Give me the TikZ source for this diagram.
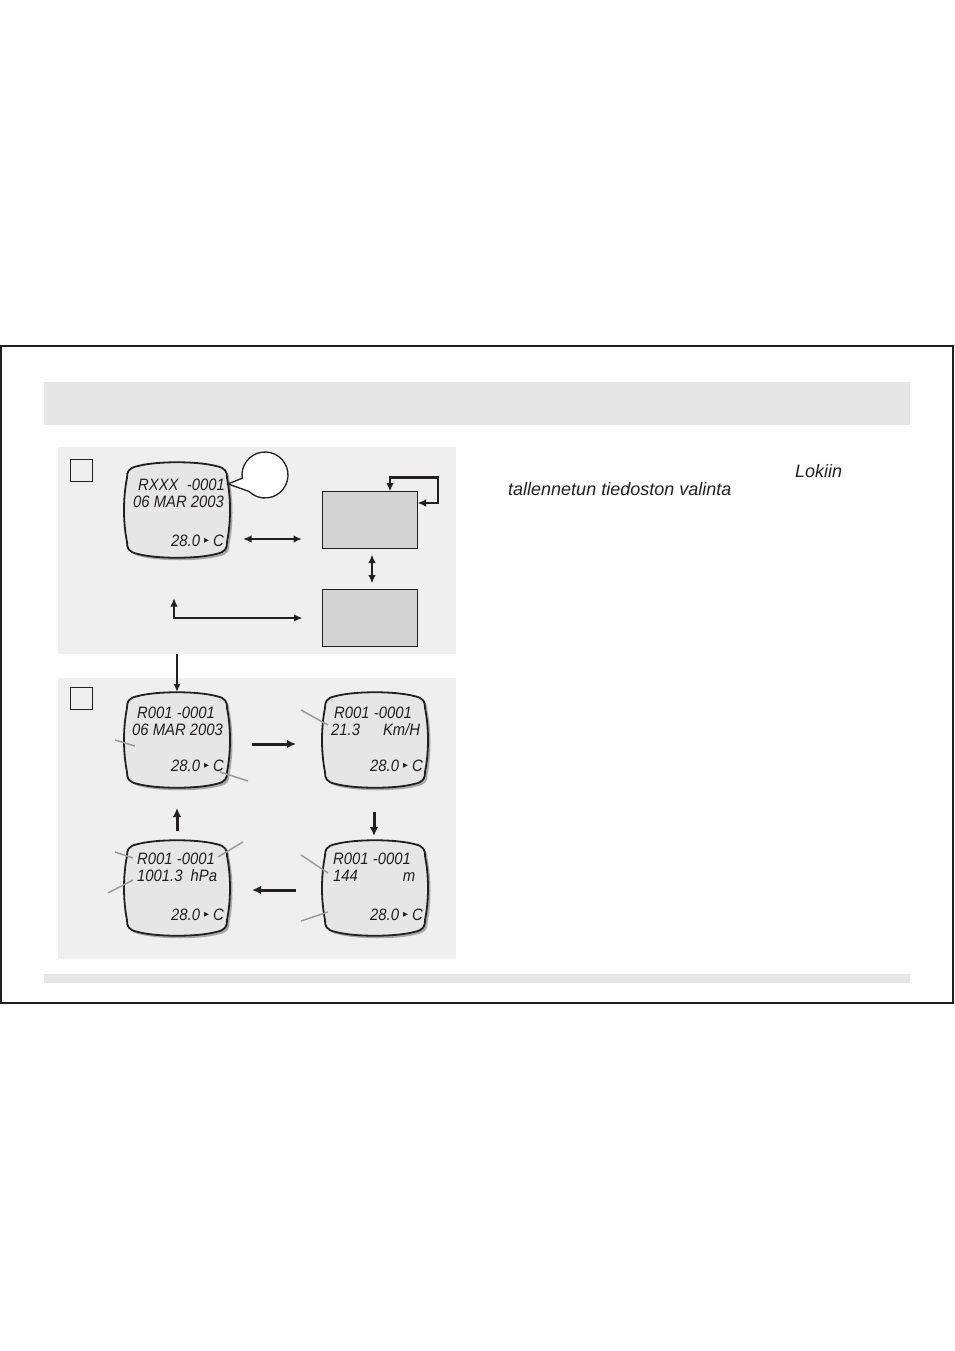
\documentclass[tikz,border=0pt]{standalone}
\usepackage{fontspec}
\setmainfont{Liberation Sans}
\newfontfamily\lcdfont{Liberation Sans}[FakeStretch=0.9]
\newfontfamily\symf{DejaVu Sans}
\usetikzlibrary{arrows.meta,calc}
\definecolor{band}{HTML}{E6E6E6}
\definecolor{panelbg}{HTML}{EFEFEF}
\definecolor{boxfill}{HTML}{D3D3D3}
\definecolor{lcdfill}{HTML}{E6E6E6}
\definecolor{lcdshadow}{HTML}{A8A8A8}
\definecolor{leader}{HTML}{9A9A9A}
\definecolor{ink}{HTML}{231F20}
\newcommand\tri{\hspace{4pt}\raisebox{3.5pt}{\symf\fontsize{6.5}{6.5}\selectfont ▶}\hspace{4pt}}
\tikzset{
  panel/.style={fill=panelbg, draw=none, inner sep=0, outer sep=0, anchor=north west},
  sq/.style={draw=ink, line width=1.4pt, minimum size=22pt, inner sep=0},
  gbox/.style={draw=ink, fill=boxfill, line width=1.8pt, minimum width=95pt, minimum height=57pt, inner sep=0, outer sep=0},
  lcdnode/.style={minimum width=106pt, minimum height=96pt, inner sep=0, outer sep=0},
  lcdl/.style={anchor=base west, inner sep=0, text=ink, font=\lcdfont\itshape\fontsize{16.5}{16.5}\selectfont},
  lcdr/.style={anchor=base east, inner sep=0, text=ink, font=\lcdfont\itshape\fontsize{16.5}{16.5}\selectfont},
  arr/.style={draw=ink, line width=2pt, -{Latex[length=8pt,width=7pt]}},
  darr/.style={draw=ink, line width=2.2pt, {Latex[length=8.5pt,width=7.5pt]}-{Latex[length=8.5pt,width=7.5pt]}},
  barr/.style={draw=ink, line width=3pt, -{Latex[length=9pt,width=8.5pt]}},
  lead/.style={draw=leader, line width=1.5pt},
  rtext/.style={anchor=base west, inner sep=0, text=ink, font=\itshape\fontsize{18}{18}\selectfont},
  lcd/.pic={
    \begin{scope}[shift={(2.5,2.5)}]
      \fill[lcdshadow] (-50,-32) .. controls (-50,-38) and (-49,-42) .. (-39,-44) .. controls (-20,-49) and (20,-49) .. (39,-44) .. controls (49,-42) and (50,-38) .. (50,-32) .. controls (54,-12) and (54,12) .. (50,32) .. controls (50,38) and (49,42) .. (39,44) .. controls (20,49) and (-20,49) .. (-39,44) .. controls (-49,42) and (-50,38) .. (-50,32) .. controls (-54,12) and (-54,-12) .. (-50,-32) -- cycle;
    \end{scope}
    \filldraw[fill=lcdfill, draw=ink, line width=1.8pt] (-50,-32) .. controls (-50,-38) and (-49,-42) .. (-39,-44) .. controls (-20,-49) and (20,-49) .. (39,-44) .. controls (49,-42) and (50,-38) .. (50,-32) .. controls (54,-12) and (54,12) .. (50,32) .. controls (50,38) and (49,42) .. (39,44) .. controls (20,49) and (-20,49) .. (-39,44) .. controls (-49,42) and (-50,38) .. (-50,32) .. controls (-54,12) and (-54,-12) .. (-50,-32) -- cycle;
  }
}
\begin{document}
\begin{tikzpicture}[x=1pt,y=-1pt]
\useasboundingbox (0,0) rectangle (954,1351);
\fill[white] (0,0) rectangle (954,1351);
% frame and bands
\draw[ink, line width=1.5pt] (1,346) rectangle (953,1003);
\fill[band] (44,382) rectangle (910,425);
\fill[band] (44,974) rectangle (910,983);
% panels
\node[panel, minimum width=398pt, minimum height=207pt] (p1) at (58,447) {};
\node[panel, minimum width=398pt, minimum height=281pt] (p2) at (58,678) {};
\node[sq] (s1) at (81.5,470.5) {};
\node[sq] (s2) at (81.5,698.5) {};
% boxes
\node[gbox] (bA) at (370,520) {};
\node[gbox] (bB) at (370,618) {};
% displays
\node[lcdnode] (d0) at (177,510) {};
\pic at (177,510) {lcd};
\node[lcdnode] (d1) at (177,740) {};
\pic at (177,740) {lcd};
\node[lcdnode] (d2) at (375,740) {};
\pic at (375,740) {lcd};
\node[lcdnode] (d3) at (177,888) {};
\pic at (177,888) {lcd};
\node[lcdnode] (d4) at (375,888) {};
\pic at (375,888) {lcd};
% display texts
\node[lcdl] (d0a) at (138,490) {RXXX\ \ -0001};
\node[lcdl] (d0b) at (133,507) {06 MAR 2003};
\node[lcdr] (d0c) at (224,546) {28.0\tri C};
\node[lcdl] (d1a) at (137,718) {R001 -0001};
\node[lcdl] (d1b) at (132,735) {06 MAR 2003};
\node[lcdr] (d1c) at (224,771) {28.0\tri C};
\node[lcdl] (d2a) at (334,718) {R001 -0001};
\node[lcdl] (d2b) at (331,735) {21.3\hspace{23pt}Km/H};
\node[lcdr] (d2c) at (423,771) {28.0\tri C};
\node[lcdl] (d3a) at (137,864) {R001 -0001};
\node[lcdl] (d3b) at (137,881) {1001.3\hspace{8pt}hPa};
\node[lcdr] (d3c) at (224,920) {28.0\tri C};
\node[lcdl] (d4a) at (333,864) {R001 -0001};
\node[lcdl] (d4b) at (333,881) {144\hspace{45pt}m};
\node[lcdr] (d4c) at (423,920) {28.0\tri C};
% callout bubble
\node[circle, minimum size=46pt, inner sep=0] (cb) at (265,475) {};
\coordinate (tip) at (228,484);
\filldraw[fill=white, draw=ink, line width=1.3pt] (tip) -- ($(cb.center)+(172:23)$) arc[start angle=172, end angle=495, radius=23] -- cycle;
% panel 1 arrows
\coordinate (h1) at (243,539);
\coordinate (h2) at (302,539);
\draw[darr] (h1) -- (h2);
\draw[darr] ([yshift=-6pt]bA.south -| 372,0) -- ([yshift=6pt]bB.north -| 372,0);
\draw[darr] ([xshift=20pt]bA.north) -- ++(0,-14) -- ++(48,0) |- ([yshift=17pt]bA.east);
\coordinate (Lt) at (174,598);
\draw[darr] (Lt) |- ([xshift=-20pt]bB.west);
\draw[arr] (d1.north |- p1.south) -- (d1.north);
% panel 2 arrows
\draw[barr] ([xshift=22pt]d1.east |- 0,744) -- ([xshift=-26pt]d2.west |- 0,744);
\draw[barr] ([yshift=-24pt]d2.south -| 374,0) -- ([yshift=4pt]d4.north -| 374,0);
\draw[barr] ([xshift=-26pt]d4.west |- 0,890) -- ([xshift=22pt]d3.east |- 0,890);
\draw[barr] ([yshift=9pt]d3.north) -- ([yshift=-20pt]d1.south);
% leader lines
\draw[lead] (115,740) -- (135,746);
\draw[lead] (220,772) -- (248,781);
\draw[lead] (301,710) -- (328,725);
\draw[lead] (115,852) -- (133,858);
\draw[lead] (218,857) -- (243,842);
\draw[lead] (108,893) -- (133,880);
\draw[lead] (301,855) -- (328,873);
\draw[lead] (301,921) -- (328,912);
% right text
\node[rtext] (t1) at (795,477) {Lokiin};
\node[rtext] (t2) at (508,495) {tallennetun tiedoston valinta};
\end{tikzpicture}
\end{document}
